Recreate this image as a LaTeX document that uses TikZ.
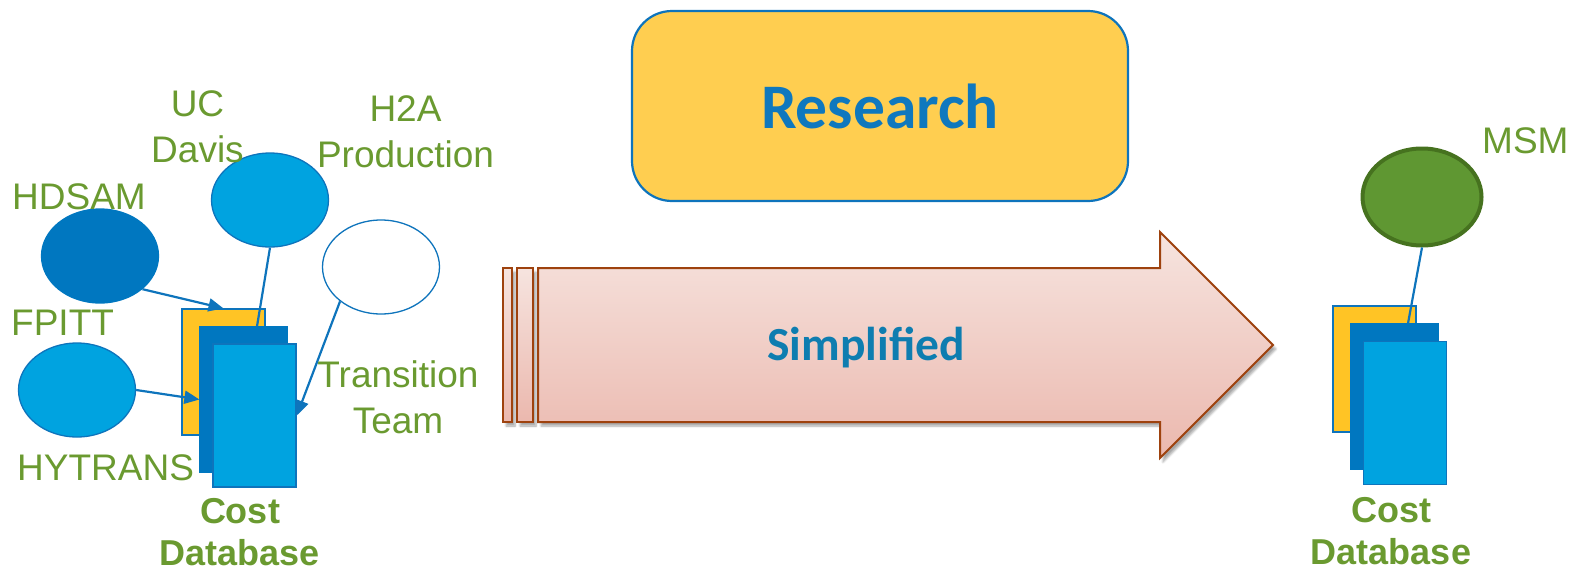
\documentclass[tikz,border=0pt]{standalone}
\usepackage{fontspec}
\setmainfont{Liberation Sans}
\newfontfamily\calib{Carlito}
\usetikzlibrary{shapes.geometric,arrows.meta,calc,shadows.blur}
\definecolor{txtgreen}{HTML}{6A9A30}
\definecolor{dkblue}{HTML}{0077C0}
\definecolor{ltblue}{HTML}{00A3E0}
\definecolor{lnblue}{HTML}{0E74BC}
\definecolor{ylw}{HTML}{FFC425}
\definecolor{resfill}{HTML}{FFCE50}
\definecolor{restxt}{HTML}{0F78BE}
\definecolor{simptxt}{HTML}{0E7DB0}
\definecolor{arrtop}{HTML}{F6E4DF}
\definecolor{arrbot}{HTML}{EBB8AE}
\definecolor{arrline}{HTML}{9E420E}
\definecolor{msmfill}{HTML}{5F9732}
\definecolor{msmline}{HTML}{46721F}
\tikzset{
  lbl/.style={inner sep=0pt, text=txtgreen, align=center, font=\fontsize{37}{46}\selectfont},
  boldlbl/.style={inner sep=0pt, text=txtgreen, align=center, font=\bfseries\fontsize{36}{42}\selectfont},
  oval/.style={ellipse, inner sep=0pt, minimum width=117pt, minimum height=94pt, draw=lnblue, line width=1.3pt},
  ysheet/.style={rectangle, inner sep=0pt, fill=ylw, draw=lnblue, line width=1.2pt, minimum width=83pt, minimum height=126pt},
  dsheet/.style={rectangle, inner sep=0pt, fill=dkblue, draw=dkblue, line width=1.2pt, minimum width=87pt, minimum height=145pt},
  lsheet/.style={rectangle, inner sep=0pt, fill=ltblue, draw=lnblue, line width=1.6pt, minimum width=83pt, minimum height=143pt},
  conn/.style={draw=lnblue, line width=2.2pt},
  arr/.style={conn, -{Triangle[length=15pt,width=13pt]}},
  bigarrow/.style={draw=arrline, line width=2pt, top color=arrtop, bottom color=arrbot,
     blur shadow={shadow xshift=3pt, shadow yshift=-4pt, shadow opacity=35, shadow blur steps=6}},
}
\begin{document}
\begin{tikzpicture}[x=1pt, y=-1pt]
\useasboundingbox (0,0) rectangle (1574,570);

% Research box
\node[rectangle, rounded corners=40pt, fill=resfill, draw=lnblue, line width=2.2pt,
      minimum width=496pt, minimum height=190pt, inner sep=0pt,
      text=restxt, font=\calib\bfseries\fontsize{63.5}{70}\selectfont] (research) at (880,106) {Research};

% Big arrow
\path[bigarrow] (503,268) rectangle (512,422);
\path[bigarrow] (517,268) rectangle (533,422);
\path[bigarrow] (538,268) -- (1160,268) -- (1160,232) -- (1273,345) -- (1160,458) -- (1160,422) -- (538,422) -- cycle;
\node[inner sep=0pt, anchor=base, text=simptxt, font=\calib\bfseries\fontsize{47.5}{56}\selectfont] (simplified) at (866,360) {Simplified};

% Left cluster
\node[oval, fill=dkblue, draw=dkblue] (hdsam) at (100,256) {};
\node[oval, fill=ltblue] (ucd) at (270,200) {};
\node[oval, fill=white] (trans) at (381,267) {};
\node[oval, fill=ltblue] (fpitt) at (77,390) {};

\node[ysheet] (ycl) at (223.5,372) {};
\node[dsheet] (dkl) at (243.5,399.5) {};
\node[lsheet] (ltl) at (254.5,415.5) {};

\draw[arr] (hdsam.-38) -- (ycl.north);
\draw[arr] (fpitt.east) -- (dkl.west);
\draw[conn] (ucd.south) -- ($(dkl.north)+(13.5,0)$);
\draw[arr] (trans.220) -- (ltl.east);

\node[lbl, anchor=north] (lucd) at (197.5,90) {UC\\Davis};
\node[lbl, anchor=north] (lh2a) at (405.5,95) {H2A\\Production};
\node[lbl, anchor=north west] (lhdsam) at (12,183) {HDSAM};
\node[lbl, anchor=north west] (lfpitt) at (11,310) {FPITT};
\node[lbl, anchor=north west] (lhytrans) at (17,454) {HYTRANS};
\node[lbl, anchor=north] (ltrans) at (398,360) {Transition\\Team};
\node[boldlbl, anchor=north] (lcostl) at (240,498) {Cost\\Database};

% Right cluster
\node[ellipse, inner sep=0pt, minimum width=119pt, minimum height=97pt, fill=msmfill, draw=msmline, line width=4pt] (msm) at (1422,197) {};
\node[ysheet] (ycr) at (1374.5,369) {};
\node[dsheet] (dkr) at (1394.5,396.5) {};
\node[lsheet] (ltr) at (1405,413) {};
\draw[conn] (msm.south) -- ($(dkr.north)+(13.5,0)$);
\node[lbl, anchor=north west] (lmsm) at (1482,127) {MSM};
\node[boldlbl, anchor=north] (lcostr) at (1391,497) {Cost\\Database};
\end{tikzpicture}
\end{document}
